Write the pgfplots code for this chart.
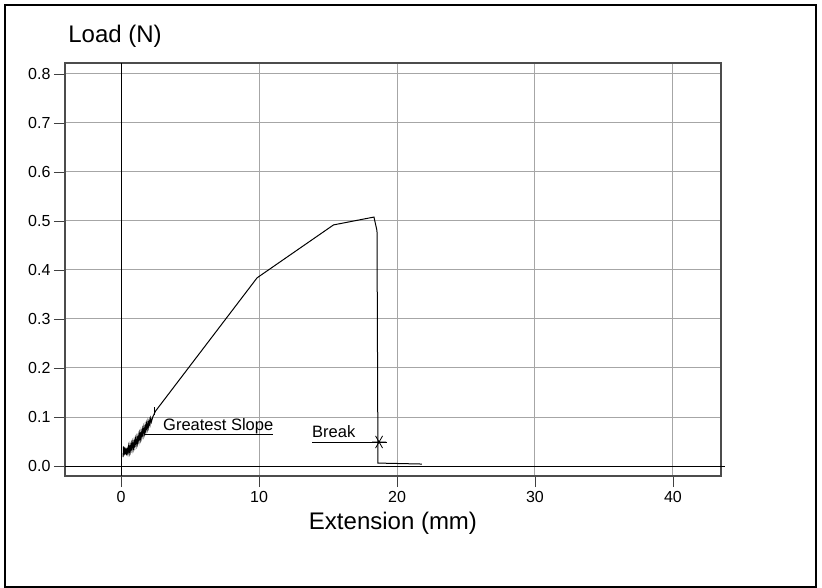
\documentclass[border=0pt]{standalone}
\usepackage{fontspec}
\setmainfont{Liberation Sans}
\usepackage{pgfplots}
\pgfplotsset{compat=1.18}
\begin{document}
\begin{tikzpicture}
\path[use as bounding box] (0pt,0pt) rectangle (822pt,-588pt);
\draw[line width=1.5pt] (5pt,-5pt) rectangle (816pt,-587pt);
\node[font=\fontsize{24}{28}\selectfont] at (115pt,-36pt) {Load (N)};
\begin{axis}[
  at={(65pt,-476pt)}, anchor=south west,
  scale only axis, width=656pt, height=413pt,
  xmin=-4.06, xmax=43.48, ymin=-0.0204, ymax=0.8224,
  xtick={0,10,20,30,40},
  ytick={0,0.1,0.2,0.3,0.4,0.5,0.6,0.7,0.8},
  yticklabel style={/pgf/number format/fixed,/pgf/number format/precision=1,/pgf/number format/fixed zerofill},
  /pgf/number format/assume math mode=true,
  tick label style={font=\fontsize{16}{18}\selectfont},
  xticklabel style={yshift=-1pt},
  xtick pos=bottom, ytick pos=left,
  tick align=outside, major tick length=11pt,
  tick style={black!75, line width=0.9pt},
  axis line style={draw=black!70, line width=1.3pt},
  grid=major, grid style={black!35, line width=1pt},
  xlabel={Extension (mm)},
  xlabel style={font=\fontsize{24}{28}\selectfont, yshift=-2pt},
  clip=false,
]
\draw[black, line width=0.9pt] (axis cs:0,-0.0204) -- (axis cs:0,0.8224);
\draw[black, line width=0.9pt] (axis cs:-4.06,0) -- (axis cs:43.8,0);
\addplot[black, line width=1pt] coordinates {
(0.15,0.018)(0.18,0.040)(0.22,0.022)(0.27,0.038)(0.32,0.024)(0.36,0.036)(0.40,0.022)
(0.45,0.034)(0.50,0.026)(0.55,0.040)(0.60,0.028)(0.65,0.042)(0.70,0.031)(0.75,0.045)
(0.80,0.034)(0.85,0.048)(0.90,0.037)(0.95,0.051)(1.00,0.040)(1.05,0.055)(1.10,0.044)
(1.15,0.058)(1.20,0.047)(1.25,0.062)(1.30,0.051)(1.35,0.066)(1.40,0.055)(1.45,0.070)
(1.50,0.059)(1.55,0.074)(1.60,0.063)(1.65,0.078)(1.70,0.067)(1.75,0.082)(1.80,0.071)
(1.85,0.086)(1.90,0.076)(1.95,0.090)(2.00,0.080)(2.05,0.093)(2.10,0.085)(2.15,0.097)
(2.20,0.090)(2.30,0.100)(2.40,0.106)(2.50,0.112)
(9.86,0.384)(15.4,0.492)(18.33,0.508)(18.55,0.480)(18.62,0.006)(21.8,0.004)
};
\addplot[black, only marks, mark=|, mark size=4pt, line width=0.8pt] coordinates {(2.45,0.112)};
\addplot[black, only marks, mark=asterisk, mark size=7pt, line width=0.8pt, mark options={rotate=90}] coordinates {(18.7,0.049)};
\draw[black, line width=0.8pt] (axis cs:1.74,0.065) -- (axis cs:11.04,0.065);
\node[anchor=base west, inner sep=0pt, font=\fontsize{16.5}{19}\selectfont] at (axis cs:3.04,0.073) {Greatest Slope};
\draw[black, line width=0.8pt] (axis cs:13.84,0.049) -- (axis cs:19.28,0.049);
\node[anchor=base west, inner sep=0pt, font=\fontsize{16.5}{19}\selectfont] at (axis cs:13.84,0.059) {Break};
\end{axis}
\end{tikzpicture}
\end{document}
